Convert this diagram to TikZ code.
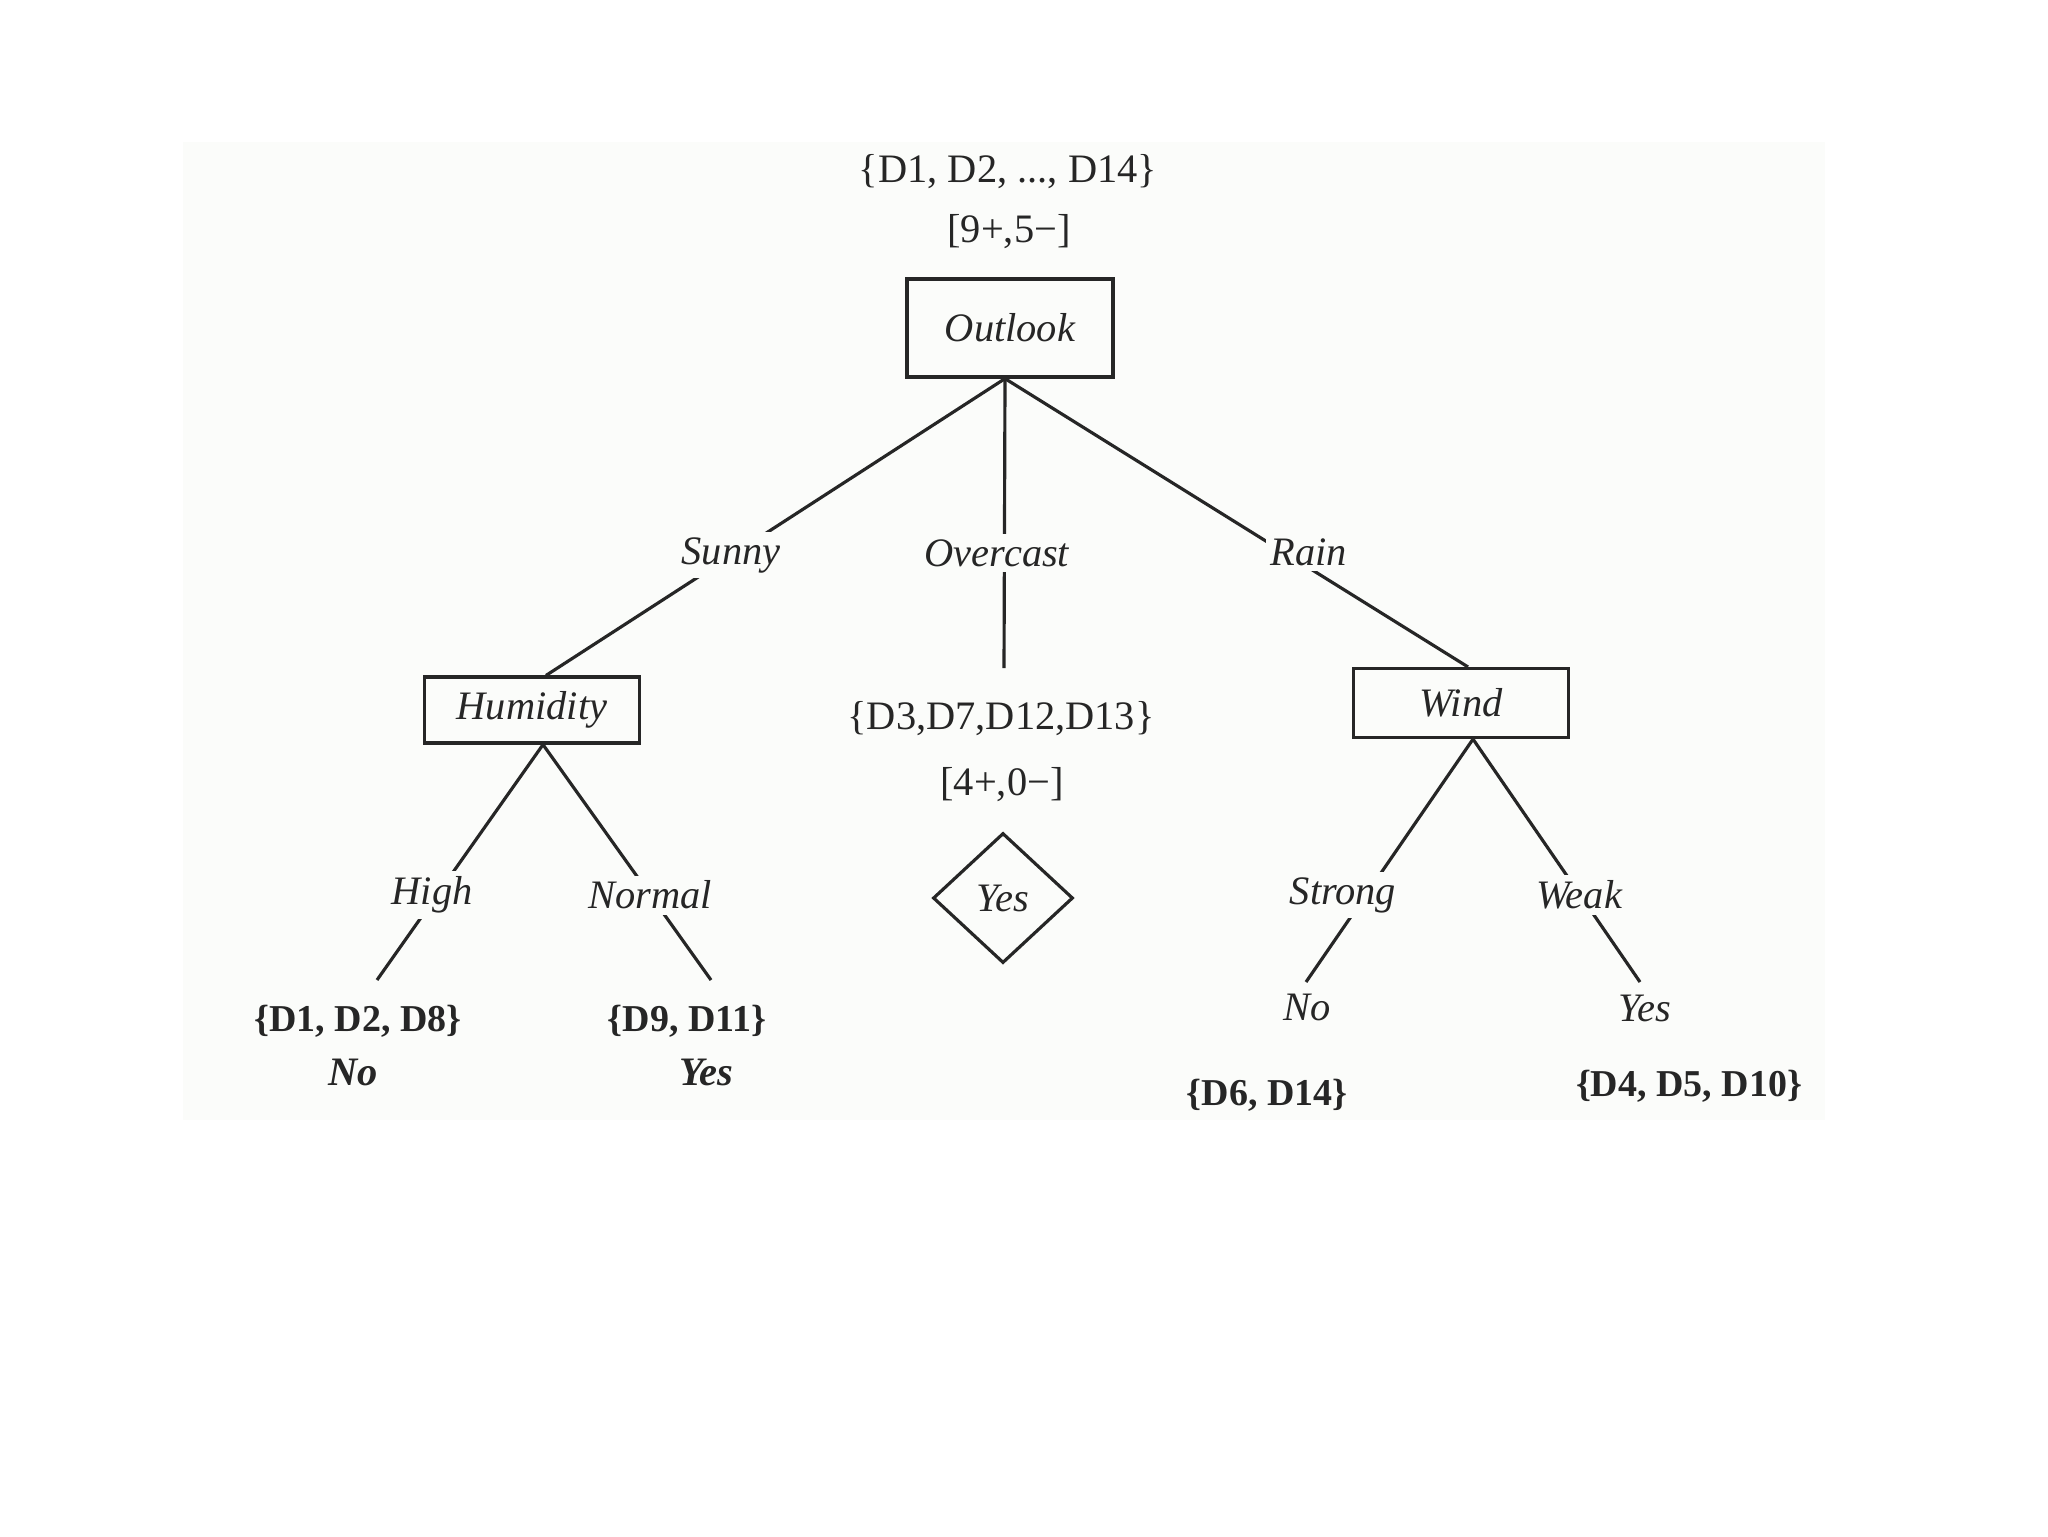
\documentclass[tikz,border=0pt]{standalone}
\usepackage{fontspec}
\setmainfont{Liberation Serif}
\usetikzlibrary{shapes.geometric}
\definecolor{paperTone}{RGB}{251,252,250}
\definecolor{inkTone}{RGB}{38,38,38}
\newcommand{\baseSize}{\fontsize{11.5}{14}\selectfont}
\newcommand{\setSize}{\fontsize{10.8}{13}\selectfont}
\newcommand{\branchLabel}[3]{%%
  %% A value label sitting on its branch.
  \node[branchStyle] (#1) at (#2) {#3};
}

\begin{document}
\begin{tikzpicture}[%%
  x=0.1mm,y=-0.1mm,%%
  boxStyle/.style={draw=inkTone,line width=0.9pt,inner sep=0pt,text=inkTone,font=\baseSize\itshape},%%
  edgeStyle/.style={draw=inkTone,line width=0.9pt},%%
  branchStyle/.style={fill=paperTone,inner sep=1.5pt,text=inkTone,font=\baseSize\itshape},%%
  textStyle/.style={inner sep=1pt,text=inkTone,font=\baseSize},%%
  setStyle/.style={inner sep=1pt,text=inkTone,font=\setSize\bfseries},%%
  classStyle/.style={inner sep=1pt,text=inkTone,font=\baseSize\itshape},%%
  leafStyle/.style={diamond,aspect=1,draw=inkTone,line width=0.9pt,inner sep=0pt,%%
    minimum width=14mm,minimum height=13mm,text=inkTone,font=\baseSize\itshape}
]
%%
%%
\useasboundingbox (0,0) rectangle (2048,1536);
\fill[paperTone] (183,142) rectangle (1825,1120);
%%
%% The root and its data.
\node[textStyle] (rootSet) at (1008,172) {\{D1, D2, ..., D14\}};
\node[textStyle] (rootCount) at (1009,232) {[9+,5−]};
\node[boxStyle,minimum width=20.6mm,minimum height=9.8mm] (outlook) at (1010,328) {Outlook};
%%
%% The inner tests.
\node[boxStyle,minimum width=21.5mm,minimum height=6.6mm] (humidity) at (532,710) {Humidity};
\node[boxStyle,minimum width=21.5mm,minimum height=6.9mm] (wind) at (1461,703) {Wind};
%%
%% The overcast leaf.
\node[textStyle] (overcastSet) at (1001,719) {\{D3,D7,D12,D13\}};
\node[textStyle] (overcastCount) at (1002,785) {[4+,0−]};
\node[leafStyle] (overcastLeaf) at (1003,898) {Yes};
%%
%% Free ends of the branches.
\coordinate (overcastEnd) at (1004,668);
\coordinate (highEnd) at (377,980);
\coordinate (normalEnd) at (711,980);
\coordinate (strongEnd) at (1306,982);
\coordinate (weakEnd) at (1640,982);
%%
%% The branches.
\draw[edgeStyle] ([xshift=-0.5mm]outlook.south) -- ([xshift=1.4mm]humidity.north);
\draw[edgeStyle] ([xshift=-0.5mm]outlook.south) -- (overcastEnd);
\draw[edgeStyle] ([xshift=-0.5mm]outlook.south) -- ([xshift=0.7mm]wind.north);
\draw[edgeStyle] ([xshift=1.1mm]humidity.south) -- (highEnd);
\draw[edgeStyle] ([xshift=1.1mm]humidity.south) -- (normalEnd);
\draw[edgeStyle] ([xshift=1.2mm]wind.south) -- (strongEnd);
\draw[edgeStyle] ([xshift=1.2mm]wind.south) -- (weakEnd);
%%
%% Values of the attributes.
\branchLabel{sunny}{731,555}{Sunny}
\branchLabel{overcast}{997,553}{Overcast}
\branchLabel{rain}{1309,552}{Rain}
\branchLabel{high}{432,895}{High}
\branchLabel{normal}{650,895}{Normal}
\branchLabel{strong}{1343,895}{Strong}
\branchLabel{weak}{1579,895}{Weak}
%%
%% The leaves.
\node[setStyle] (highSet) at (358,1021) {\{D1, D2, D8\}};
\node[classStyle,font=\baseSize\bfseries\itshape] (highClass) at (353,1072) {No};
\node[setStyle] (normalSet) at (687,1021) {\{D9, D11\}};
\node[classStyle,font=\baseSize\bfseries\itshape] (normalClass) at (706,1072) {Yes};
\node[classStyle] (strongClass) at (1307,1007) {No};
\node[setStyle] (strongSet) at (1267,1095) {\{D6, D14\}};
\node[classStyle] (weakClass) at (1645,1008) {Yes};
\node[setStyle] (weakSet) at (1689,1086) {\{D4, D5, D10\}};
\end{tikzpicture}
\end{document}
